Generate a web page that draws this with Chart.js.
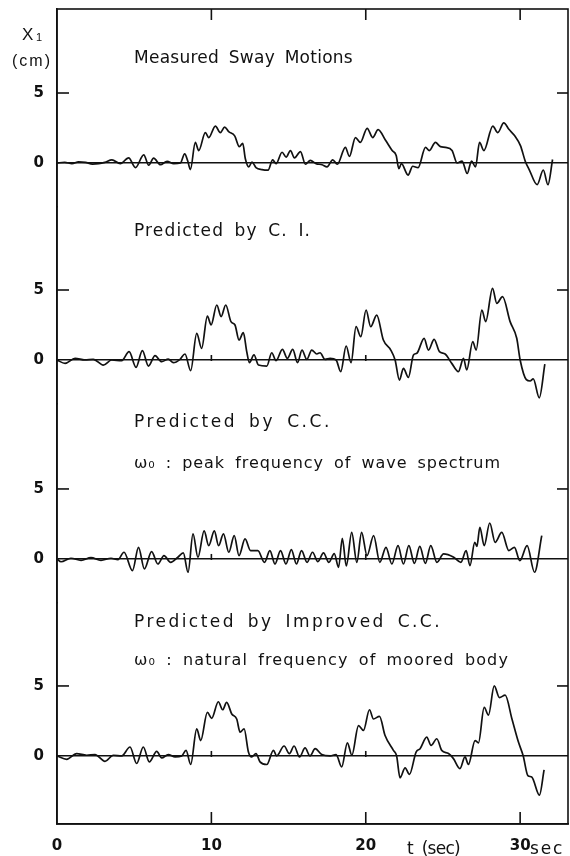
<!DOCTYPE html>
<html>
<head>
<meta charset="utf-8">
<script src="https://cdn.jsdelivr.net/npm/chart.js@4.4.1/dist/chart.umd.min.js"></script>
<style>
    html, body { margin: 0; padding: 0; background: #fff; }
    #chart { display: block; }
</style>
</head>
<body>
<canvas id="chart" width="570" height="856"></canvas>
<script>
/* =========================
   DATA
========================= */

const xTicks = [0, 10, 20, 30];
const yTicks = [0, 5];

// Measured sway motions
const measuredTime = [0, 0.5, 0.97, 1.4, 1.84, 2.3, 2.7, 3.1, 3.56, 4.1, 4.64, 5.08, 5.62, 5.94, 6.26, 6.7, 7.13, 7.56, 7.99, 8.27, 8.47, 8.64, 8.96, 9.18, 9.61, 9.83, 10.26, 10.58, 10.86, 11.12, 11.51, 11.81, 12.03, 12.2, 12.42, 12.63, 12.89, 13.28, 13.67, 13.97, 14.19, 14.58, 14.84, 15.12, 15.38, 15.77, 16.09, 16.41, 16.78, 17.17, 17.49, 17.86, 18.16, 18.68, 18.94, 19.33, 19.65, 20.09, 20.45, 20.8, 21.27, 21.71, 21.97, 22.14, 22.31, 22.74, 23.04, 23.39, 23.87, 24.12, 24.51, 24.84, 25.16, 25.59, 25.92, 26.24, 26.57, 26.85, 27.11, 27.37, 27.65, 28.23, 28.55, 28.94, 29.27, 29.65, 30.02, 30.35, 30.6, 31.1, 31.5, 31.8, 32.1];
const measuredValue = [0, 0.05, -0.05, 0.08, 0.05, -0.08, -0.05, 0.05, 0.23, -0.05, 0.37, -0.33, 0.58, -0.16, 0.35, -0.12, 0.12, -0.05, 0, 0.65, 0.14, -0.47, 1.47, 0.89, 2.17, 1.82, 2.64, 2.17, 2.57, 2.24, 1.94, 1.17, 1.4, 0.3, -0.28, 0.07, -0.33, -0.47, -0.51, 0.23, -0.05, 0.77, 0.42, 0.89, 0.37, 0.82, -0.09, 0.19, -0.05, -0.12, -0.28, 0.23, -0.09, 1.12, 0.47, 1.82, 1.47, 2.48, 1.82, 2.38, 1.64, 0.89, 0.54, -0.4, -0.05, -0.86, -0.23, -0.33, 1.12, 0.89, 1.47, 1.17, 1.12, 0.89, 0, 0.14, -0.75, 0.14, -0.28, 1.47, 0.89, 2.64, 2.17, 2.87, 2.41, 1.94, 1.24, 0.07, -0.5, -1.55, -0.5, -1.55, 0.25];

// Predicted by C. I.
const ciTime = [0, 0.52, 1.17, 1.81, 2.35, 3.0, 3.54, 4.19, 4.67, 5.12, 5.53, 5.92, 6.35, 6.78, 7.21, 7.54, 7.97, 8.29, 8.66, 9.05, 9.37, 9.74, 9.98, 10.35, 10.63, 10.93, 11.27, 11.53, 11.79, 12.07, 12.29, 12.46, 12.76, 13.05, 13.59, 13.91, 14.19, 14.6, 14.92, 15.27, 15.58, 15.87, 16.18, 16.5, 16.83, 17.04, 17.36, 17.69, 18.08, 18.38, 18.73, 19.05, 19.37, 19.68, 20.02, 20.32, 20.71, 21.14, 21.62, 21.9, 22.18, 22.44, 22.76, 23.09, 23.31, 23.78, 24.06, 24.43, 24.77, 25.14, 25.57, 26.0, 26.33, 26.54, 26.93, 27.15, 27.52, 27.77, 28.21, 28.49, 28.86, 29.35, 29.78, 30.0, 30.4, 30.65, 30.85, 31.24, 31.6];
const ciValue = [0, -0.24, 0.12, 0, 0.05, -0.36, 0, -0.05, 0.6, -0.52, 0.67, -0.43, 0.31, -0.12, 0.07, -0.19, 0.05, 0.43, -0.76, 1.9, 0.83, 3.14, 2.5, 3.93, 3.1, 3.93, 2.74, 2.5, 1.43, 1.95, 0.6, -0.19, 0.36, -0.36, -0.43, 0.52, -0.05, 0.76, 0.12, 0.76, -0.19, 0.71, 0.05, 0.71, 0.43, 0.52, 0.05, 0.12, 0, -0.83, 1.0, -0.19, 2.38, 1.67, 3.57, 2.38, 3.21, 1.43, 0.71, 0, -1.43, -0.6, -1.24, 0.36, 0.48, 1.55, 0.71, 1.48, 0.6, 0.43, -0.24, -0.83, 0.12, -0.71, 1.31, 0.71, 3.57, 2.74, 5.12, 4.05, 4.52, 2.74, 1.55, 0, -1.4, -1.5, -1.35, -2.7, -0.3];

// Predicted by C.C. (w0 = peak frequency of wave spectrum)
const ccTime = [0, 0.26, 0.9, 1.56, 2.2, 2.85, 3.5, 3.95, 4.34, 4.89, 5.28, 5.66, 6.13, 6.53, 6.93, 7.36, 7.83, 8.18, 8.49, 8.81, 9.13, 9.53, 9.83, 10.19, 10.47, 10.78, 11.13, 11.48, 11.79, 12.18, 12.54, 13.01, 13.44, 13.79, 14.12, 14.48, 14.83, 15.18, 15.51, 15.84, 16.2, 16.55, 16.9, 17.26, 17.61, 17.96, 18.24, 18.48, 18.74, 19.09, 19.42, 19.73, 20.08, 20.51, 20.91, 21.31, 21.69, 22.09, 22.44, 22.79, 23.15, 23.5, 23.86, 24.21, 24.61, 25.04, 25.7, 26.16, 26.5, 26.75, 27.06, 27.2, 27.39, 27.67, 28.03, 28.38, 28.81, 29.27, 29.63, 29.98, 30.45, 30.93, 31.4];
const ccValue = [0, -0.2, 0.05, -0.1, 0.1, -0.1, 0.05, -0.05, 0.48, -0.83, 0.83, -0.71, 0.52, -0.36, 0.24, -0.24, 0.12, 0.43, -0.95, 1.79, 0.12, 2.0, 0.95, 2.0, 0.95, 1.79, 0.48, 1.67, 0.24, 1.43, 0.6, 0.6, -0.24, 0.6, -0.36, 0.6, -0.36, 0.67, -0.36, 0.6, -0.24, 0.48, -0.19, 0.43, -0.24, 0.38, -0.6, 1.48, -0.5, 1.9, -0.24, 1.9, 0.24, 1.67, -0.24, 0.83, -0.36, 0.95, -0.36, 0.95, -0.31, 0.9, -0.31, 0.95, -0.24, 0.36, 0.12, -0.24, 0.6, -0.48, 1.19, 0.9, 2.26, 0.95, 2.57, 1.19, 1.9, 0.6, 0.83, -0.12, 0.95, -0.95, 1.67];

// Predicted by improved C.C. (w0 = natural frequency of moored body)
const improvedTime = [0, 0.63, 1.27, 1.92, 2.46, 3.11, 3.65, 4.19, 4.73, 5.16, 5.59, 5.98, 6.46, 6.78, 7.21, 7.65, 8.08, 8.36, 8.66, 9.05, 9.31, 9.74, 10.02, 10.45, 10.73, 10.99, 11.32, 11.64, 11.86, 12.12, 12.4, 12.61, 12.89, 13.15, 13.59, 14.02, 14.23, 14.71, 15.05, 15.36, 15.71, 16.07, 16.39, 16.72, 17.15, 17.69, 18.08, 18.44, 18.81, 19.1, 19.53, 19.85, 20.24, 20.5, 20.89, 21.25, 21.79, 22.0, 22.22, 22.55, 22.83, 23.26, 23.52, 23.95, 24.23, 24.6, 24.92, 25.36, 25.68, 26.1, 26.43, 26.65, 27.08, 27.3, 27.67, 27.95, 28.32, 28.66, 29.03, 29.47, 29.89, 30.2, 30.5, 30.75, 31.25, 31.55];
const improvedValue = [0, -0.24, 0.17, 0.05, 0.1, -0.38, 0.05, 0, 0.64, -0.54, 0.64, -0.42, 0.33, -0.14, 0.1, -0.07, 0, 0.4, -0.61, 1.93, 1.1, 3.11, 2.69, 3.87, 3.3, 3.82, 3.0, 2.64, 1.7, 1.93, 0.28, -0.07, 0.17, -0.42, -0.61, 0.4, 0, 0.71, 0.17, 0.71, -0.07, 0.57, 0, 0.52, 0.1, 0, 0.1, -0.78, 0.94, 0.05, 2.17, 1.82, 3.3, 2.64, 2.83, 1.46, 0.4, 0, -1.56, -0.85, -1.32, 0.28, 0.52, 1.34, 0.75, 1.23, 0.4, 0.17, -0.19, -0.9, -0.07, -0.61, 1.1, 0.94, 3.47, 2.92, 5.0, 4.17, 4.34, 2.64, 0.99, 0, -1.4, -1.5, -2.8, -1.0];

/* =========================
   PANELS (one stacked y axis each)
========================= */

const ink = "#111";

const panels = [
    { id: "y1", min: -3.14, max: 11.0, time: measuredTime, value: measuredValue },
    { id: "y2", min: -3.14, max: 10.93, time: ciTime, value: ciValue },
    { id: "y3", min: -3.14, max: 11.07, time: ccTime, value: ccValue },
    { id: "y4", min: -4.86, max: 10.93, time: improvedTime, value: improvedValue }
];

const notes = [
    { panel: 0, text: "Measured Sway Motions", dy: -100, width: 219, size: 17 },
    { panel: 1, text: "Predicted by C. I.", dy: -124, width: 177, size: 17 },
    { panel: 2, text: "Predicted by C.C.", dy: -132, width: 198, size: 17 },
    { panel: 2, text: "ω₀ : peak frequency of wave spectrum", dy: -91, width: 367, size: 16 },
    { panel: 3, text: "Predicted by Improved C.C.", dy: -129, width: 308, size: 17 },
    { panel: 3, text: "ω₀ : natural frequency of moored body", dy: -91, width: 375, size: 16 }
];

function toPoints(times, values) {
    return times.map((t, i) => ({ x: t, y: values[i] }));
}

function panelAxis(p, order) {
    return {
        type: "linear",
        position: "left",
        stack: "panels",
        stackWeight: p.max - p.min,
        weight: panels.length - order,
        min: p.min,
        max: p.max,
        afterBuildTicks: s => { s.ticks = yTicks.map(v => ({ value: v })); },
        afterFit: s => {
            s.width = 57;
            s.paddingTop = 0;
            s.paddingBottom = 0;
        },
        grid: {
            drawTicks: false,
            lineWidth: 1.5,
            color: c => (c.tick && c.tick.value === 0) ? ink : "rgba(0,0,0,0)"
        },
        border: { color: ink, width: 1.6 },
        ticks: {
            padding: 13,
            color: ink,
            font: { family: "DejaVu Sans", size: 15, weight: "bold" }
        }
    };
}

/* =========================
   TEXT + FRAME MARKS
========================= */

function fitText(ctx, text, x, y, width, font) {
    ctx.font = font;
    ctx.letterSpacing = "0px";
    ctx.wordSpacing = "4px";
    const w = ctx.measureText(text).width;
    const ls = Math.max(-1, (width - w) / text.length);
    ctx.letterSpacing = ls.toFixed(2) + "px";
    ctx.fillText(text, x, y);
}

const frameMarks = {
    id: "frameMarks",
    afterDraw(chart) {
        const { ctx, chartArea: a, scales } = chart;
        const xs = scales.x;

        const seg = (x1, y1, x2, y2) => {
            ctx.beginPath();
            ctx.moveTo(x1, y1);
            ctx.lineTo(x2, y2);
            ctx.stroke();
        };

        ctx.save();
        ctx.strokeStyle = ink;
        ctx.lineWidth = 1.6;

        // the box round all four panels
        ctx.strokeRect(a.left, a.top, a.right - a.left, a.bottom - a.top);

        // inward time ticks, top and bottom
        xTicks.filter(v => v > 0).forEach(v => {
            const px = xs.getPixelForValue(v);
            seg(px, a.top, px, a.top + 11);
            seg(px, a.bottom, px, a.bottom - 12);
        });

        // inward "5" ticks and small marks on each zero line
        panels.forEach((p, i) => {
            const ys = scales[p.id];
            const y5 = ys.getPixelForValue(5);
            const y0 = ys.getPixelForValue(0);
            seg(a.left, y5, a.left + 12, y5);
            seg(a.right - 11, y5, a.right, y5);
            if (i > 0) {
                [10, 20].forEach(v => {
                    const px = xs.getPixelForValue(v);
                    seg(px, y0 - 5, px, y0 + 1);
                });
            }
        });

        // panel captions
        ctx.fillStyle = ink;
        ctx.textBaseline = "alphabetic";
        ctx.textAlign = "left";
        notes.forEach(n => {
            const y0 = scales[panels[n.panel].id].getPixelForValue(0);
            fitText(ctx, n.text, a.left + 77, y0 + n.dy, n.width, n.size + "px 'DejaVu Sans'");
        });

        // y axis unit label
        ctx.wordSpacing = "0px";
        ctx.letterSpacing = "0px";
        ctx.font = "17px 'Liberation Sans'";
        ctx.fillText("X", 22, 40);
        ctx.font = "11px 'Liberation Sans'";
        ctx.fillText("1", 36, 41);
        fitText(ctx, "(cm)", 12, 66, 40, "16px 'Liberation Sans'");

        // time axis captions
        fitText(ctx, "t (sec)", 407, 854, 53, "17px 'DejaVu Sans'");
        fitText(ctx, "sec", 530, 854, 34, "17px 'DejaVu Sans'");

        ctx.restore();
    }
};

/* =========================
   CHART
========================= */

const scales = {
    x: {
        type: "linear",
        min: 0,
        max: 33.1,
        afterBuildTicks: s => { s.ticks = xTicks.map(v => ({ value: v })); },
        afterFit: s => {
            s.height = 32;
            s.paddingLeft = 0;
            s.paddingRight = 0;
        },
        grid: { display: false, drawTicks: false },
        border: { color: ink, width: 1.6 },
        ticks: {
            padding: 13,
            maxRotation: 0,
            color: ink,
            font: { family: "DejaVu Sans", size: 15, weight: "bold" }
        }
    }
};
panels.forEach((p, i) => { scales[p.id] = panelAxis(p, i); });

new Chart(document.getElementById("chart"), {
    type: "line",
    data: {
        datasets: panels.map(p => ({
            data: toPoints(p.time, p.value),
            xAxisID: "x",
            yAxisID: p.id,
            borderColor: ink,
            borderWidth: 1.7,
            borderJoinStyle: "round",
            pointRadius: 0,
            cubicInterpolationMode: "monotone",
            fill: false
        }))
    },
    options: {
        responsive: false,
        animation: false,
        devicePixelRatio: 1,
        layout: { padding: { top: 9, right: 2, left: 0, bottom: 0 } },
        plugins: { legend: { display: false }, tooltip: { enabled: false } },
        scales
    },
    plugins: [frameMarks]
});
</script>
</body>
</html>
